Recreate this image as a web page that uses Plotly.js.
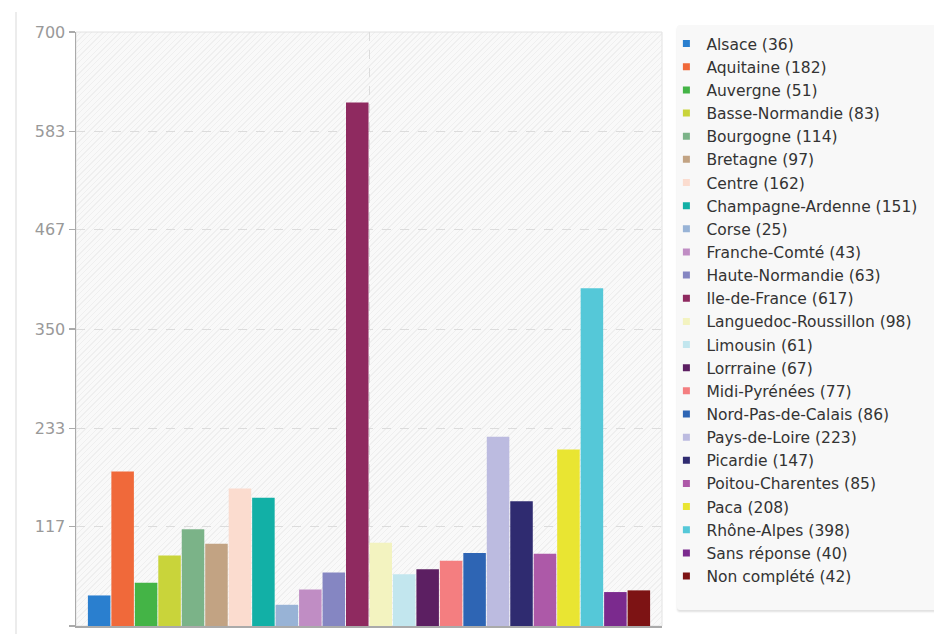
<!DOCTYPE html>
<html>
<head>
<meta charset="utf-8">
<script src="https://cdn.plot.ly/plotly-3.0.1.min.js"></script>
<style>
  html, body { margin: 0; padding: 0; background: #ffffff; }
  #wrap { position: relative; width: 934px; height: 634px; overflow: hidden; }
  #leftline { position: absolute; left: 15px; top: 12px; width: 2px; height: 640px; background: #ececec; }
  #hatch { position: absolute; left: 76px; top: 32px; width: 586px; height: 594px;
    background: repeating-linear-gradient(135deg, #f9f9f9 0px, #f9f9f9 3px, #efefef 3px, #efefef 4px); }
  #legbg { position: absolute; left: 677px; top: 25px; width: 270px; height: 585px;
    background: #f8f8f8; border-radius: 3px; box-shadow: 0 2px 2px rgba(0,0,0,0.12); }
  #chart { position: absolute; left: 0; top: 0; width: 934px; height: 634px; }
</style>
</head>
<body>
<div id="wrap">
  <div id="leftline"></div>
  <div id="hatch"></div>
  <div id="legbg"></div>
  <div id="chart"></div>
</div>
<script>
const regions = ["Alsace", "Aquitaine", "Auvergne", "Basse-Normandie", "Bourgogne", "Bretagne",
  "Centre", "Champagne-Ardenne", "Corse", "Franche-Comté", "Haute-Normandie", "Ile-de-France",
  "Languedoc-Roussillon", "Limousin", "Lorrraine", "Midi-Pyrénées", "Nord-Pas-de-Calais",
  "Pays-de-Loire", "Picardie", "Poitou-Charentes", "Paca", "Rhône-Alpes", "Sans réponse", "Non complété"];
const counts = [36, 182, 51, 83, 114, 97, 162, 151, 25, 43, 63, 617, 98, 61, 67, 77, 86, 223, 147, 85, 208, 398, 40, 42];
const colors = ["#2a7fcf", "#f0693a", "#44b446", "#c9d43a", "#7bb388", "#c2a383", "#fbdccf", "#12b0a6",
  "#98b3d6", "#c08dc4", "#8586c2", "#8f2a60", "#f3f3c0", "#c2e6ee", "#5c1f62", "#f47e80", "#2e65b4",
  "#bcbbe0", "#2f2b70", "#ad59a8", "#e9e532", "#55c8d8", "#7b2a8e", "#7d1314"];
const yTicks = [0, 117, 233, 350, 467, 583, 700];
const category = "Régions";

const traces = [];
regions.forEach((r, i) => {
  const label = r + " (" + counts[i] + ")";
  traces.push({
    type: "bar",
    x: [category],
    y: [counts[i]],
    name: label,
    showlegend: false,
    marker: { color: colors[i] },
    hoverinfo: "name"
  });
  // legend entry with a small square key
  traces.push({
    type: "scatter",
    mode: "markers",
    x: [null],
    y: [null],
    name: label,
    showlegend: true,
    marker: { color: colors[i], symbol: "square", size: 7, line: { width: 0 } },
    hoverinfo: "skip"
  });
});

const layout = {
  width: 934, height: 634,
  margin: { l: 76, r: 272, t: 32, b: 8, pad: 0 },
  paper_bgcolor: "rgba(0,0,0,0)",
  plot_bgcolor: "rgba(0,0,0,0)",
  barmode: "group",
  bargap: 0.039,
  bargroupgap: 0.04,
  font: { family: "DejaVu Sans, sans-serif", size: 15.5, color: "#333" },
  showlegend: true,
  legend: {
    x: 1.0075, xanchor: "left", y: 1.0084, yanchor: "top",
    maxheight: 620,
    bgcolor: "rgba(0,0,0,0)", borderwidth: 0,
    traceorder: "normal",
    font: { family: "DejaVu Sans, sans-serif", size: 15.5, color: "#333" },
    itemclick: false
  },
  xaxis: {
    type: "category",
    range: [-0.5, 0.5],
    showticklabels: false,
    ticks: "",
    showgrid: true, gridcolor: "#dcdcdc", griddash: "dash", gridwidth: 1,
    showline: true, linecolor: "#aaaaaa", linewidth: 1.5,
    zeroline: false, fixedrange: true
  },
  yaxis: {
    range: [0, 700],
    tickvals: yTicks,
    ticktext: yTicks.map(String),
    ticks: "outside", ticklen: 6, tickcolor: "#aaaaaa", tickwidth: 1.5,
    tickfont: { family: "DejaVu Sans, sans-serif", size: 16, color: "#999999" },
    showgrid: true, gridcolor: "#dcdcdc", griddash: "dash", gridwidth: 1,
    showline: true, linecolor: "#aaaaaa", linewidth: 1.5,
    zeroline: false, fixedrange: true
  },
  shapes: [
    { type: "rect", xref: "paper", yref: "paper", x0: 0, x1: 1, y0: 0, y1: 1,
      line: { color: "#e2e2e2", width: 1 }, fillcolor: "rgba(0,0,0,0)", layer: "below" }
  ]
};

Plotly.newPlot("chart", traces, layout, { displayModeBar: false, staticPlot: true });
</script>
</body>
</html>
